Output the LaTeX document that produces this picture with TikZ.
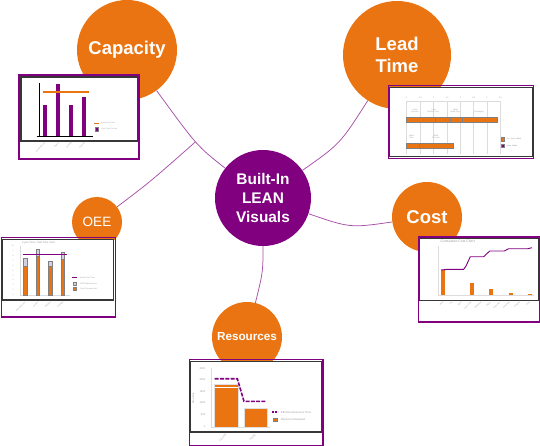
\documentclass[tikz,border=0pt]{standalone}
\usepackage{fontspec}
\setmainfont{Liberation Sans}
\usepackage{tikz}
\usetikzlibrary{positioning}
\definecolor{bubble}{RGB}{233,116,17}
\definecolor{hub}{RGB}{128,0,128}
\definecolor{link}{RGB}{165,80,165}
\definecolor{frame}{RGB}{55,55,55}
\definecolor{grid}{RGB}{220,220,220}
\definecolor{lav}{RGB}{215,205,228}
\definecolor{labelgray}{RGB}{160,160,160}

\begin{document}
\begin{tikzpicture}[x=1pt,y=-1pt,
  topic/.style={circle,fill=bubble,text=white,inner sep=0pt,align=center},
  lnk/.style={draw=link,line width=0.75pt},
  outerbox/.style={draw=hub,line width=1.1pt},
  innerbox/.style={draw=frame,fill=white,line width=1.1pt},
  minitext/.style={font=\fontsize{#1}{#1}\selectfont,text=labelgray,inner sep=0pt},
  minitext/.default=2.5,
  chartaxis/.style={draw=grid,line width=0.7pt},
  swatch/.style={draw=gray,line width=0.5pt}
]
\useasboundingbox (0,0) rectangle (540,446);

% Bubbles (hub in the middle, five topics round it)
\node[topic,fill=hub,minimum size=96pt,font=\bfseries\fontsize{15.4}{19}\selectfont] (lean) at (263,198) {Built-In\\LEAN\\Visuals};
\node[topic,minimum size=100pt,font=\bfseries\fontsize{18.5}{22}\selectfont] (cap) at (127,50) {Capacity};
\node[topic,minimum size=108pt,font=\bfseries\fontsize{18.5}{22}\selectfont] (lead) at (397,55) {Lead\\Time};
\node[topic,minimum size=50pt,font=\fontsize{13.5}{16}\selectfont] (oee) at (97,222) {OEE};
\node[topic,minimum size=70pt,font=\bfseries\fontsize{18.5}{22}\selectfont] (cost) at (427,217) {Cost};
\node[topic,minimum size=70pt,font=\bfseries\fontsize{11.7}{14}\selectfont] (res) at (247,337) {Resources};

% Connectors
\draw[lnk] (cap) .. controls (197,146) .. (lean) coordinate[pos=.5] (j);
\draw[lnk] (oee) .. controls (150,182) .. (j);
\draw[lnk] (lean) .. controls (340,144) .. (lead);
\draw[lnk] (lean) .. controls (350,228) .. (cost);
\draw[lnk] (lean) .. controls (263,272) .. (res);

% Capacity chart
\draw[innerbox] (21,77) rectangle (138,141);
\draw[outerbox] (19,75) rectangle (139,159);
\foreach \x/\t in {42.7/105,56/83.7,69/105,82/97}
  \fill[hub] (\x,\t) rectangle (\x+3.8,136.7);
\draw[black,line width=0.9pt] (39.3,83) -- (39.3,136.7);
\draw[black,line width=0.9pt] (36.7,136.7) -- (92.7,136.7);
\draw[bubble,line width=1.2pt] (42.7,92) -- (89,92);
\draw[bubble,line width=0.8pt] (94,123.3) -- (98.7,123.3);
\node[minitext=1.8,anchor=west] (capleg1) at (101,123.3) {Activity Takt Time};
\filldraw[swatch,fill=hub] (95.3,127.7) rectangle (98.7,131);
\node[minitext=1.8,anchor=west] (capleg2) at (101,129.4) {Cycle Time Per Unit};
\foreach \x/\l [count=\i] in {45.5/Assembly Line,59/Station,72/Welding,85/Painting}
  \node[minitext=2,rotate=45,anchor=east] (capx\i) at (\x,142.5) {\l};

% Lead time chart
\draw[innerbox] (389.7,87.3) rectangle (532.3,156.7);
\draw[outerbox] (388.3,85.7) rectangle (533.3,158.3);
\foreach \x/\v [count=\i] in {406.3/0,420.3/0.5,433.7/1,447/1.5,460.3/2,473.7/2.5,487/3,500.3/3.5}{
  \draw[chartaxis] (\x,101.5) -- (\x,154.5);
  \node[minitext=2] (ltick\i) at (\x,97.7) {\v};
}
\draw[chartaxis] (406.3,101.5) -- (500.3,101.5);
\foreach \a/\b in {406.3/435.3,435.3/450.3,450.3/462,462/497}
  \filldraw[draw=gray,line width=0.7pt,fill=bubble] (\a,117) rectangle (\b,122);
\foreach \a/\b in {406.3/419,419/453.7}
  \filldraw[draw=gray,line width=0.7pt,fill=bubble] (\a,143.3) rectangle (\b,148.3);
\node[minitext=2,align=center] (lrow1) at (415,110.5) {Lathe\\Process};
\node[minitext=2,align=center] (lrow2) at (433.5,110.5) {Lath\\Wrench Proc.};
\node[minitext=2,align=center] (lrow3) at (455.5,110.5) {Weld\\Bend Proc.};
\node[minitext=2,align=center] (lrow4) at (479,112) {Packaging};
\node[minitext=2,align=center] (lrow5) at (411.5,137) {Lathe\\Proc.};
\node[minitext=2,align=center] (lrow6) at (436,137) {Weld\\Process};
\filldraw[swatch,fill=bubble] (501.3,137.7) rectangle (504.3,141);
\node[minitext=1.9,anchor=west] (lleg1) at (506.3,139.3) {Non Value Added};
\filldraw[swatch,fill=hub] (501.3,144.3) rectangle (504.3,147.7);
\node[minitext=1.9,anchor=west] (lleg2) at (506.3,146) {Value Added};

% OEE chart
\draw[innerbox] (2.5,239.3) rectangle (113.3,300);
\draw[outerbox] (1.7,237.7) rectangle (115.7,317);
\node[minitext=2.6,anchor=west] (otitle) at (22,242.7) {Cycle Time / Takt Time chart};
\draw[chartaxis] (20,246) -- (20,295) -- (70,295);
\foreach \i in {0,...,10}
  \node[minitext=1.8,anchor=east] (oy\i) at (13.8,295-\i*4.9) {\i};
\foreach \x/\t/\m in {23.3/258.3/266.7,36/249.3/256,48.3/261/266.7,61/252/259.3}{
  \filldraw[draw=gray,line width=0.6pt,fill=lav] (\x,\t) rectangle (\x+3.6,\m);
  \filldraw[draw=gray,line width=0.6pt,fill=bubble] (\x,\m) rectangle (\x+3.6,295);
}
\draw[hub,line width=1pt] (22.7,254.3) -- (66.7,254.3);
\draw[hub,line width=0.8pt] (71.7,277.7) -- (77.3,277.7);
\node[minitext=1.9,anchor=west] (oleg1) at (80,277.7) {Activity Takt Time};
\filldraw[swatch,fill=lav] (73.3,282) rectangle (76.7,285.3);
\node[minitext=1.9,anchor=west] (oleg2) at (80,283.7) {OEE Reduced Loss};
\filldraw[swatch,fill=bubble] (73.3,287.3) rectangle (76.7,290.7);
\node[minitext=1.9,anchor=west] (oleg3) at (80,289) {Cycle Time per Unit};
\foreach \x/\l [count=\i] in {25.5/Assembly Line,38/Station,50.5/Welding,63/Painting}
  \node[minitext=2,rotate=45,anchor=east] (ox\i) at (\x,302) {\l};

% Cost chart
\draw[innerbox] (419.3,238.7) rectangle (538.7,300.3);
\draw[outerbox] (418.3,237) rectangle (539.7,322);
\node[minitext=3.4,anchor=west] (ctitle) at (440.3,241.7) {Cumulative Cost Chart};
\draw[chartaxis] (438,246) -- (438,295.3) -- (533.7,295.3);
\foreach \x/\t in {441/270,469.7/282.7,489/289.3,509/292.7,528/294}
  \fill[bubble] (\x,\t) rectangle (\x+3.8,295.3);
\draw[hub,line width=0.9pt] (441,270) -- (448,269.3) -- (463.7,269.3) -- (466,266) -- (470.3,256.7)
  -- (483.7,256.7) -- (489.7,251) -- (504.3,251) -- (508.7,248.7) -- (528,248.7) -- (532,247.7);
\foreach \x/\l [count=\i] in {443/Mold,452.3/Cut,461.3/Sand,471.3/Heat Treat,481.3/Machining,
    490.7/Deburr,500.3/Inspection,509.7/Assembly,519.7/Packing,529.7/Ship}
  \node[minitext=2,rotate=45,anchor=east] (cx\i) at (\x,302) {\l};

% Resources chart
\draw[innerbox] (190.7,361.3) rectangle (321.3,432);
\draw[outerbox] (189.7,359.7) rectangle (323,445.3);
\node[minitext=2.6,rotate=90] (ry) at (193.5,398) {Man-Day};
\foreach \v/\y [count=\i] in {2500/368.7,2000/379.7,1500/391.3,1000/402.3,500/414.7,0/426.3}
  \node[minitext=2.6,anchor=east] (rtick\i) at (205.5,\y) {\v};
\draw[chartaxis] (211.3,368) -- (211.3,427) -- (269.7,427);
\filldraw[draw=gray!25,line width=0.8pt,fill=bubble] (214.7,384) rectangle (238,427);
\draw[white,line width=0.8pt] (214.7,387.3) -- (238,387.3);
\filldraw[draw=gray!25,line width=0.8pt,fill=bubble] (244,408) rectangle (267,427);
\draw[hub,line width=1.6pt,dash pattern=on 4pt off 1.3pt] (214.7,378.7) -- (237.3,378.7) -- (244,401.3) -- (265.3,401.3);
\draw[hub,line width=1.2pt,dash pattern=on 2pt off 1pt] (272,412) -- (278,412);
\node[minitext=2.8,anchor=west] (rleg1) at (280.7,412) {Effective Resource Time};
\filldraw[swatch,fill=bubble] (273,418) rectangle (277.3,421.3);
\node[minitext=2.8,anchor=west] (rleg2) at (280.7,419.7) {Resource Required};
\foreach \x/\l [count=\i] in {226/Current,255.5/Future}
  \node[minitext=2.6,rotate=45,anchor=east] (rx\i) at (\x,434.5) {\l};
\end{tikzpicture}
\end{document}
